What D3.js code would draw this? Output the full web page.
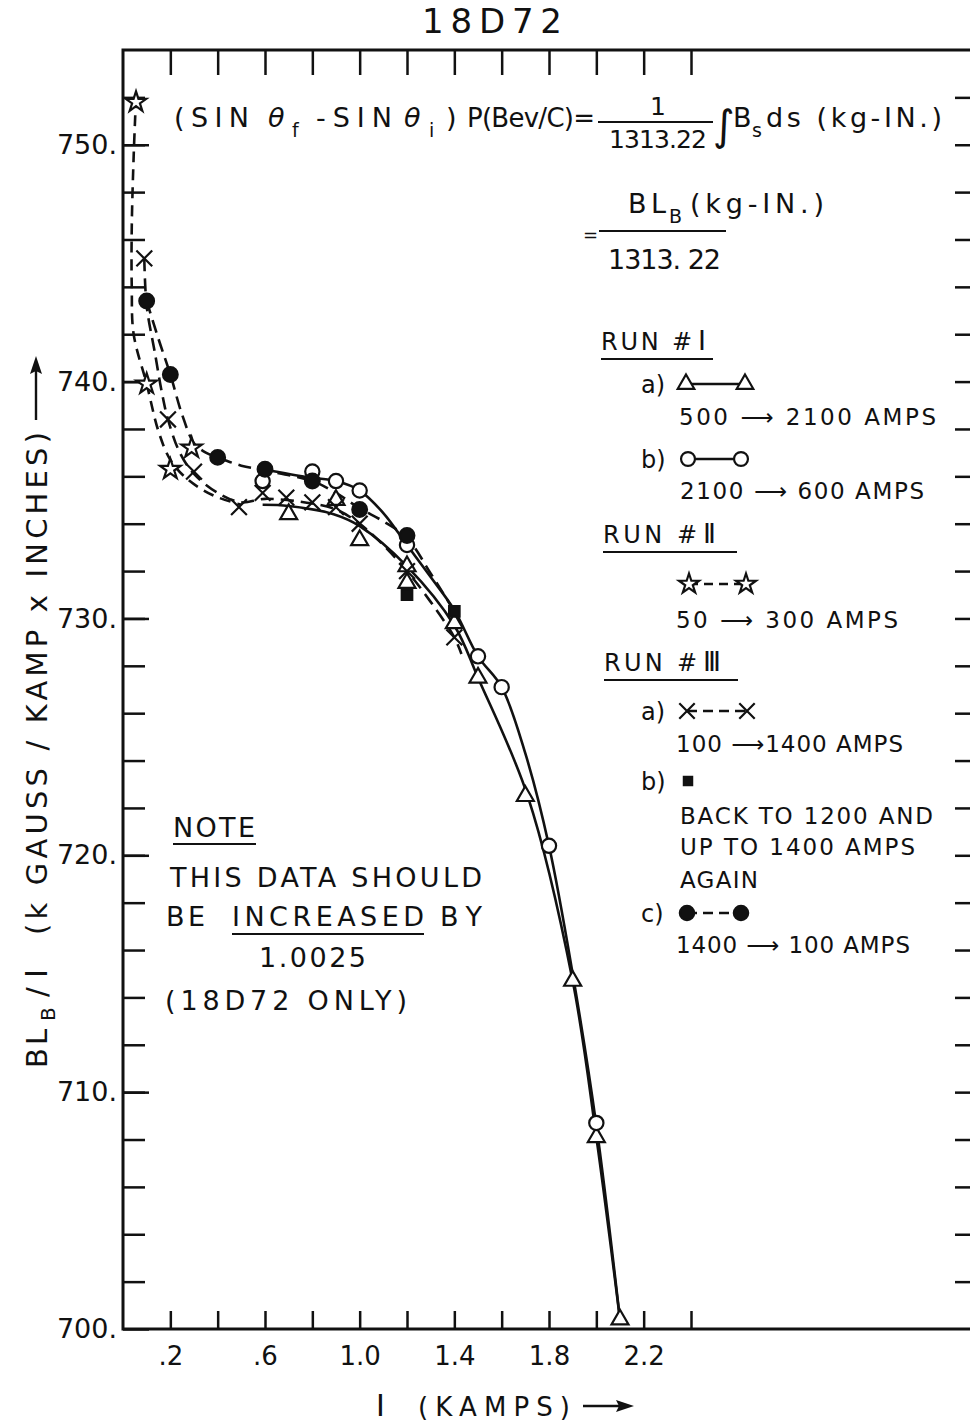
<!DOCTYPE html>
<html>
<head>
<meta charset="utf-8">
<script src="https://cdn.jsdelivr.net/npm/d3@7/dist/d3.min.js"></script>
<style>
  body { margin: 0; background: #fff; }
  text { font-family: "DejaVu Sans", sans-serif; fill: #111; }
</style>
</head>
<body>
<svg id="chart" width="970" height="1424"></svg>
<script>
// ticks
var xTicks = [0.2, 0.4, 0.6, 0.8, 1.0, 1.2, 1.4, 1.6, 1.8, 2.0, 2.2, 2.4];
var xLabels = [0.2, 0.6, 1.0, 1.4, 1.8, 2.2];
var yTicks = [702, 704, 706, 708, 710, 712, 714, 716, 718, 720, 722, 724, 726,
              728, 730, 732, 734, 736, 738, 740, 742, 744, 746, 748, 750, 752];
var yLabels = [700, 710, 720, 730, 740, 750];

// measured points [I (kamps), BL/I]
var runIa = [[0.7, 734.4], [0.9, 735.0], [1.0, 733.3], [1.2, 732.2], [1.2, 731.5], [1.4, 729.8],
             [1.5, 727.5], [1.7, 722.5], [1.9, 714.7], [2.0, 708.1], [2.1, 700.4]];
var runIb = [[0.59, 735.8], [0.8, 736.2], [0.9, 735.8], [1.0, 735.4], [1.2, 733.1], [1.5, 728.4],
             [1.6, 727.1], [1.8, 720.4], [2.0, 708.7]];
var runII = [[0.055, 751.8], [0.1, 739.9], [0.2, 736.3], [0.29, 737.2]];
var runIIIa = [[0.09, 745.2], [0.19, 738.4], [0.3, 736.2], [0.49, 734.7], [0.59, 735.3], [0.69, 735.1],
               [0.8, 734.9], [0.9, 734.7], [1.0, 734.0], [1.2, 732.0], [1.4, 729.2]];
var runIIIb = [[1.2, 731.0], [1.4, 730.3]];
var runIIIc = [[0.1, 743.4], [0.2, 740.3], [0.4, 736.8], [0.6, 736.3], [0.8, 735.8], [1.0, 734.6], [1.2, 733.5]];

// hand drawn curves
var fitIa = [[0.59, 734.8], [0.7, 734.75], [0.89, 734.4], [1.0, 733.9], [1.2, 732.2], [1.4, 729.7],
             [1.5, 727.5], [1.71, 722.5], [1.9, 714.7], [2.0, 708.1], [2.1, 700.4]];
var fitIb = [[0.59, 736.3], [0.79, 735.95], [0.9, 735.8], [1.0, 735.4], [1.1, 734.45], [1.2, 733.1],
             [1.3, 731.75], [1.4, 730.35], [1.5, 728.4], [1.6, 727.1], [1.7, 724.3], [1.8, 720.4],
             [1.9, 715.0], [2.0, 708.6], [2.1, 700.4]];
var fitII = [[0.055, 752.0], [0.045, 749.5], [0.037, 746.5], [0.037, 744.0], [0.045, 742.0], [0.1, 739.9],
             [0.15, 737.9], [0.2, 736.7], [0.27, 735.9], [0.38, 735.2], [0.5, 734.8]];
var fitIIIa = [[0.09, 745.2], [0.1, 743.2], [0.135, 741.2], [0.165, 739.5], [0.19, 738.4], [0.24, 737.0],
               [0.3, 736.1], [0.4, 735.3], [0.5, 734.9], [0.6, 735.05], [0.8, 734.85], [0.9, 734.6],
               [1.0, 734.0], [1.1, 733.1], [1.2, 732.0], [1.3, 730.7], [1.4, 729.2], [1.43, 728.5]];
var fitIIIc = [[0.1, 743.4], [0.15, 741.8], [0.2, 740.3], [0.25, 738.6], [0.3, 737.4], [0.35, 737.0],
               [0.4, 736.8], [0.5, 736.45], [0.6, 736.25], [0.8, 735.8], [0.9, 735.3], [1.0, 734.65],
               [1.1, 734.1], [1.2, 733.4], [1.3, 731.9], [1.4, 730.3]];

var ink = "#111";
var svg = d3.select("#chart");

var x = d3.scaleLinear().domain([0, 3.6]).range([123, 975]);
var y = d3.scaleLinear().domain([700, 754]).range([1329, 50]);

// frame
svg.append("rect")
    .attr("x", x(0)).attr("y", y(754))
    .attr("width", x(3.6) - x(0)).attr("height", y(700) - y(754))
    .attr("fill", "none").attr("stroke", ink).attr("stroke-width", 3);

function tickAxis(axis, tr) {
    var g = svg.append("g").attr("transform", tr).call(axis);
    g.select(".domain").remove();
    g.selectAll(".tick line").attr("stroke", ink).attr("stroke-width", 2.5);
    return g;
}
tickAxis(d3.axisLeft(y).tickValues(yTicks).tickSize(-22).tickFormat(""), "translate(" + x(0) + ",0)");
tickAxis(d3.axisLeft(y).tickValues(yLabels).tickSize(-26).tickFormat(""), "translate(" + x(0) + ",0)");
tickAxis(d3.axisRight(y).tickValues(yTicks).tickSize(-20).tickFormat(""), "translate(" + x(3.6) + ",0)");
tickAxis(d3.axisTop(x).tickValues(xTicks).tickSize(-25).tickFormat(""), "translate(0," + y(754) + ")");
tickAxis(d3.axisBottom(x).tickValues(xTicks).tickSize(-18).tickFormat(""), "translate(0," + y(700) + ")");

// tick labels
var yl = svg.append("g").attr("transform", "translate(" + x(0) + ",0)")
    .call(d3.axisLeft(y).tickValues(yLabels).tickSize(0).tickPadding(6).tickFormat(function (d) { return d + "."; }));
yl.select(".domain").remove();
yl.selectAll("text").attr("font-size", 27).attr("font-family", "DejaVu Sans").attr("fill", ink);

var xl = svg.append("g").attr("transform", "translate(0," + y(700) + ")")
    .call(d3.axisBottom(x).tickValues(xLabels).tickSize(0).tickPadding(18)
        .tickFormat(function (d) { return d < 1 ? d3.format(".1f")(d).slice(1) : d3.format(".1f")(d); }));
xl.select(".domain").remove();
xl.selectAll("text").attr("font-size", 26).attr("font-family", "DejaVu Sans").attr("fill", ink);

// curves
var line = d3.line().x(function (d) { return x(d[0]); }).y(function (d) { return y(d[1]); })
    .curve(d3.curveCatmullRom.alpha(0.5));
var curves = [
    { pts: fitIa, dash: null },
    { pts: fitIb, dash: null },
    { pts: fitII, dash: "11,7" },
    { pts: fitIIIa, dash: "13,7" },
    { pts: fitIIIc, dash: "13,7" }
];
svg.append("g").selectAll("path").data(curves).join("path")
    .attr("d", function (d) { return line(d.pts); })
    .attr("fill", "none").attr("stroke", ink).attr("stroke-width", 2.6)
    .attr("stroke-dasharray", function (d) { return d.dash; });

// markers
var symX = { draw: function (c, s) { var r = Math.sqrt(s) / 2; c.moveTo(-r, -r); c.lineTo(r, r); c.moveTo(r, -r); c.lineTo(-r, r); } };
var kinds = {
    tri: { type: d3.symbolTriangle, size: 125, fill: "#fff" },
    circ: { type: d3.symbolCircle, size: 160, fill: "#fff" },
    star: { type: d3.symbolStar, size: 130, fill: "#fff" },
    cross: { type: symX, size: 250, fill: "none" },
    sq: { type: d3.symbolSquare, size: 110, fill: ink },
    dot: { type: d3.symbolCircle, size: 170, fill: ink }
};
function drawMarkers(data, k) {
    var s = kinds[k];
    svg.append("g").selectAll("path").data(data).join("path")
        .attr("transform", function (d) { return "translate(" + x(d[0]) + "," + y(d[1]) + ")"; })
        .attr("d", d3.symbol().type(s.type).size(s.size))
        .attr("fill", s.fill).attr("stroke", ink).attr("stroke-width", 2.2);
}
drawMarkers(runIa, "tri");
drawMarkers(runIb, "circ");
drawMarkers(runII, "star");
drawMarkers(runIIIa, "cross");
drawMarkers(runIIIc, "dot");
drawMarkers(runIIIb, "sq");

// text helpers
function txt(px, py, str, size, len, anchor) {
    var t = svg.append("text").attr("x", px).attr("y", py).attr("font-size", size).text(str);
    if (len) t.attr("textLength", len).attr("lengthAdjust", "spacing");
    if (anchor) t.attr("text-anchor", anchor);
    return t;
}
function roman(px, py, str, size) {
    return svg.append("text").attr("x", px).attr("y", py).attr("font-size", size)
        .attr("font-family", "DejaVu Sans Mono").attr("letter-spacing", -3).text(str);
}
function hline(x1, x2, yy, w) {
    svg.append("line").attr("x1", x1).attr("x2", x2).attr("y1", yy).attr("y2", yy)
        .attr("stroke", ink).attr("stroke-width", w || 2);
}

// title
txt(492, 33, "18D72", 34, 140, "middle");

// formula
txt(174, 127, "(SIN", 27, 75);
txt(268, 127, "θ", 27).attr("font-style", "italic");
txt(292, 137, "f", 19);
txt(316, 127, "-SIN", 27, 76);
txt(404, 127, "θ", 27).attr("font-style", "italic");
txt(429, 137, "i", 19);
txt(446, 127, ")", 27);
txt(467, 127, "P(Bev/C)=", 26, 128);
txt(658, 115, "1", 25, null, "middle");
hline(598, 713, 122, 2);
txt(658, 148, "1313.22", 25, 98, "middle");
txt(713, 140, "∫", 42);
txt(733, 127, "B", 27);
txt(752, 137, "s", 19);
txt(766, 127, "ds (kg-IN.)", 27, 176);

txt(628, 213, "BL", 27, 38);
txt(669, 223, "B", 19);
txt(690, 213, "(kg-IN.)", 27, 134);
txt(583, 241, "=", 18);
hline(599, 726, 231, 2);
txt(608, 269, "1313. 22", 27, 113);

// legend
function runHead(px, py, numPx, num, ulEnd) {
    txt(px, py, "RUN #", 24, numPx - px - 6);
    roman(numPx, py, num, 27);
    hline(px, ulEnd, py + 9, 2.2);
}
runHead(601, 350, 698, "I", 713);
txt(641, 393, "a)", 24);
txt(679, 425, "500 ⟶ 2100 AMPS", 23, 257);
txt(641, 468, "b)", 24);
txt(680, 499, "2100 ⟶ 600 AMPS", 23, 244);
runHead(603, 543, 703, "II", 737);
txt(676, 628, "50 ⟶ 300 AMPS", 23, 222);
runHead(604, 671, 703, "III", 738);
txt(641, 720, "a)", 24);
txt(676, 752, "100 ⟶1400 AMPS", 23, 227);
txt(641, 790, "b)", 24);
txt(680, 824, "BACK TO 1200 AND", 23, 253);
txt(680, 855, "UP TO 1400 AMPS", 23, 235);
txt(680, 888, "AGAIN", 23, 78);
txt(641, 922, "c)", 24);
txt(676, 953, "1400 ⟶ 100 AMPS", 23, 234);

var legRows = [
    { k: "tri", x1: 686, x2: 745, yy: 384, dash: null },
    { k: "circ", x1: 688, x2: 741, yy: 459, dash: null },
    { k: "star", x1: 689, x2: 746, yy: 584, dash: "9,6" },
    { k: "cross", x1: 687, x2: 747, yy: 711, dash: "10,6" },
    { k: "dot", x1: 687, x2: 741, yy: 913, dash: "10,6" }
];
legRows.forEach(function (r) {
    svg.append("line").attr("x1", r.x1).attr("x2", r.x2).attr("y1", r.yy).attr("y2", r.yy)
        .attr("stroke", ink).attr("stroke-width", 2.4).attr("stroke-dasharray", r.dash);
    var s = kinds[r.k];
    [r.x1, r.x2].forEach(function (px) {
        svg.append("path").attr("transform", "translate(" + px + "," + r.yy + ")")
            .attr("d", d3.symbol().type(s.type).size(s.size * 0.95))
            .attr("fill", s.fill).attr("stroke", ink).attr("stroke-width", 2.2);
    });
});
svg.append("path").attr("transform", "translate(688,781)")
    .attr("d", d3.symbol().type(d3.symbolSquare).size(110)).attr("fill", ink);

// note
txt(173, 837, "NOTE", 27, 82);
hline(173, 256, 844, 2.2);
txt(170, 887, "THIS DATA SHOULD", 27, 312);
txt(166, 926, "BE", 27, 39);
txt(232, 926, "INCREASED", 27, 192);
hline(232, 424, 934, 2.2);
txt(440, 926, "BY", 27, 42);
txt(259, 967, "1.0025", 27, 107);
txt(165, 1010, "(18D72 ONLY)", 27, 242);

// axis titles
var yt = svg.append("g").attr("transform", "translate(47,1068) rotate(-90)");
yt.append("text").attr("x", 0).attr("y", 0).attr("font-size", 29).attr("letter-spacing", 3).text("BL");
yt.append("text").attr("x", 47).attr("y", 8).attr("font-size", 20).text("B");
yt.append("text").attr("x", 71).attr("y", 0).attr("font-size", 29).text("/");
yt.append("text").attr("x", 90).attr("y", 0).attr("font-size", 31).attr("font-family", "DejaVu Sans Mono").text("I");
yt.append("text").attr("x", 133).attr("y", 0).attr("font-size", 29).attr("textLength", 503)
    .attr("lengthAdjust", "spacing").text("(k GAUSS / KAMP x INCHES)");
yt.append("line").attr("x1", 648).attr("x2", 700).attr("y1", -11).attr("y2", -11).attr("stroke", ink).attr("stroke-width", 2.4);
yt.append("path").attr("d", "M712,-11 L694,-17 L697,-11 L694,-5 Z").attr("fill", ink);

svg.append("text").attr("x", 376).attr("y", 1416).attr("font-size", 30)
    .attr("font-family", "DejaVu Sans Mono").text("I");
txt(418, 1416, "(KAMPS)", 26, 152);
hline(583, 622, 1406, 2.4);
svg.append("path").attr("d", "M634,1406 L616,1400 L619,1406 L616,1412 Z").attr("fill", ink);
</script>
</body>
</html>
